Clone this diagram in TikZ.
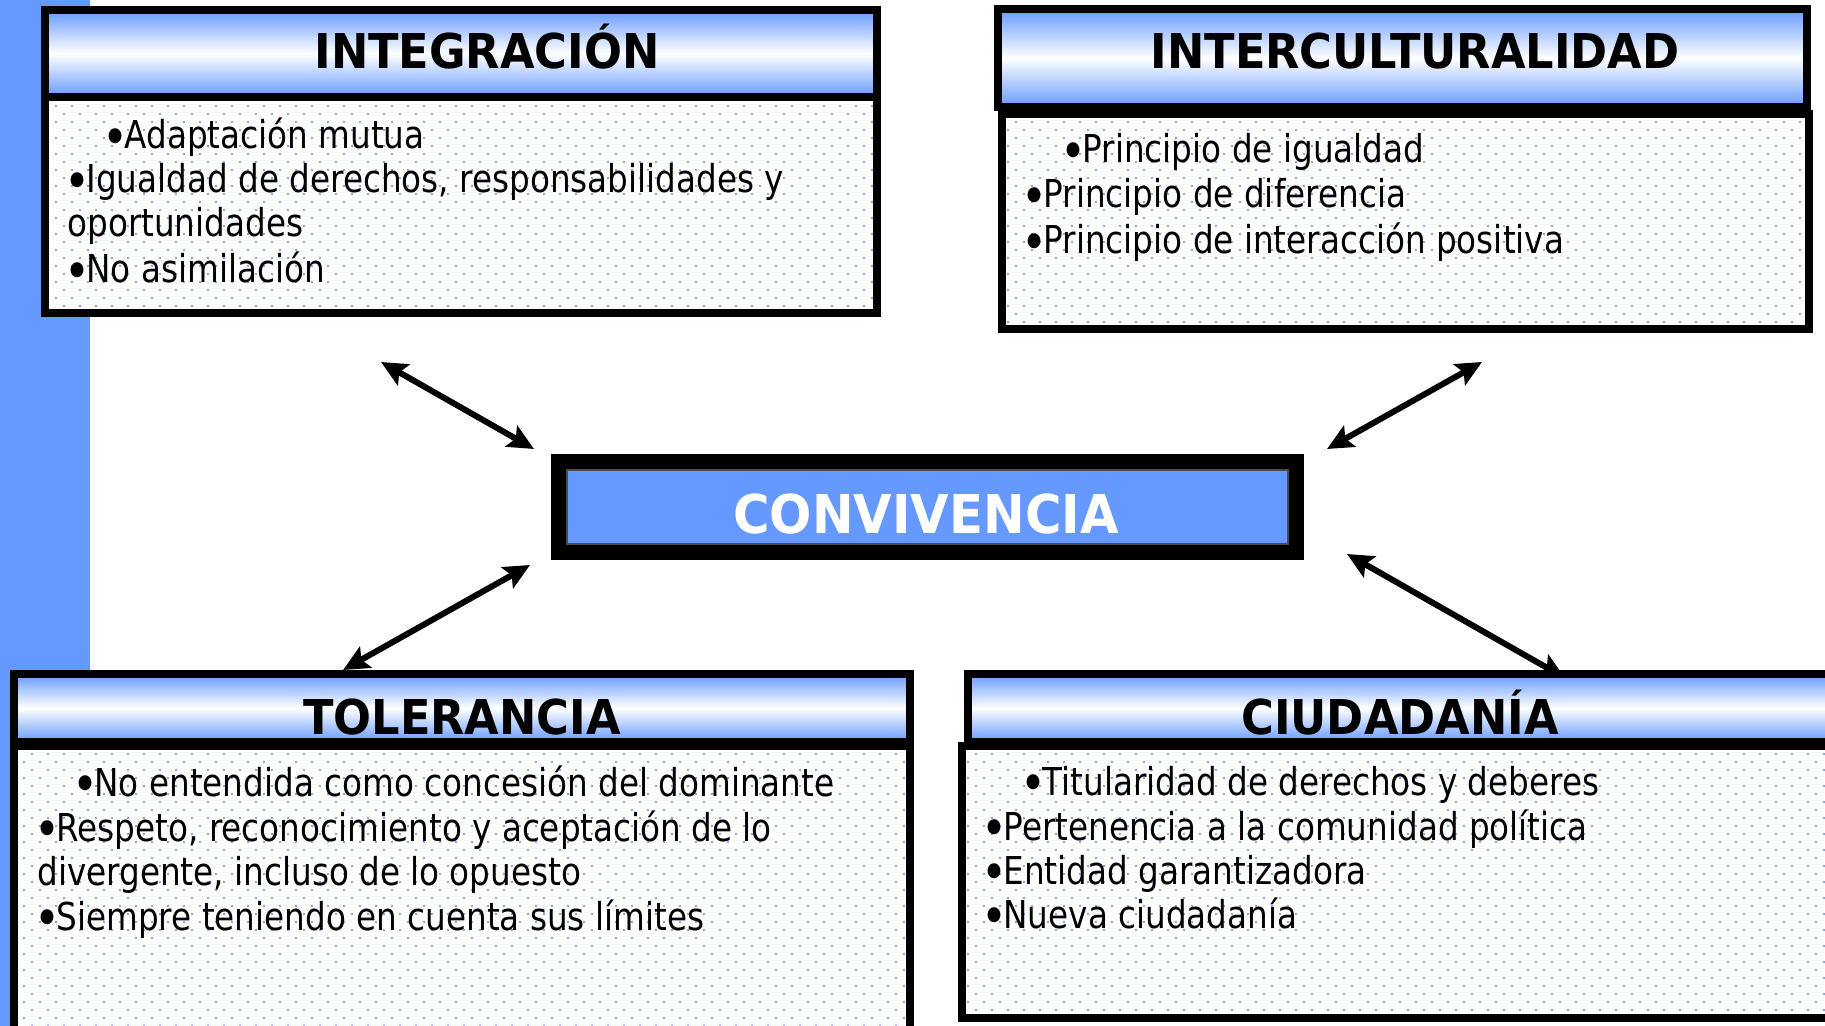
\documentclass[tikz,border=0pt]{standalone}
\usepackage{fontspec}
\setmainfont{DejaVu Sans}[FakeStretch=0.85]
\newfontfamily\tfont{DejaVu Sans}[FakeStretch=0.93]
\usetikzlibrary{arrows.meta,patterns.meta}
\definecolor{hb}{HTML}{6699FF}
\definecolor{dotc}{HTML}{7FA3FF}
\newcommand\bul{\raisebox{-0.16em}{\scalebox{1.35}{•}}\kern-0.1em}
\tikzset{
 hdr/.style={draw=black, line width=4pt, top color=hb, bottom color=hb, middle color=white},
 bodyb/.style={draw=black, line width=4pt, preaction={fill=white}, pattern={Dots[distance=5.657pt,angle=45,radius=0.65pt]}, pattern color=dotc},
 ttl/.style={font=\tfont\bfseries\fontsize{24}{28}\selectfont, anchor=base, inner sep=0pt},
 txt/.style={font=\fontsize{19.2}{22.4}\selectfont, anchor=base west, inner sep=0pt, text height=0.72em, text depth=0.12em},
 dbl/.style={line width=3pt, {Stealth[length=13pt,width=12pt,inset=2.5pt]}-{Stealth[length=13pt,width=12pt,inset=2.5pt]}},
}
\begin{document}
\begin{tikzpicture}[x=0.5pt,y=-0.5pt]
\useasboundingbox (0,0) rectangle (1825,1026);
\clip (0,0) rectangle (1825,1026);
\fill[white] (0,0) rectangle (1825,1026);
\fill[hb] (0,0) rectangle (90,1026);
% INTEGRACION
\draw[bodyb] (45,97) rectangle (877,313);
\draw[hdr] (45,10) rectangle (877,97);
\node[ttl] (intt) at (487,69) {INTEGRACIÓN};
\node[txt] (int1) at (102,149) {\bul Adaptación mutua};
\node[txt] (int2) at (64,193) {\bul Igualdad de derechos, responsabilidades y};
\node[txt] (int3) at (67,237) {oportunidades};
\node[txt] (int4) at (64,283) {\bul No asimilación};
% INTERCULTURALIDAD
\draw[bodyb] (1002,114) rectangle (1809,329);
\draw[hdr] (998,9) rectangle (1807,107);
\node[ttl] (ict) at (1415,69) {INTERCULTURALIDAD};
\node[txt] (ic1) at (1060,163) {\bul Principio de igualdad};
\node[txt] (ic2) at (1021,208) {\bul Principio de diferencia};
\node[txt] (ic3) at (1021,254) {\bul Principio de interacción positiva};
% TOLERANCIA
\draw[bodyb] (14,746) rectangle (910,1050);
\draw[hdr] (14,674) rectangle (910,742);
\node[ttl] (tolt) at (462,734) {TOLERANCIA};
\node[txt] (tol1) at (72,796) {\bul No entendida como concesión del dominante};
\node[txt] (tol2) at (34,841) {\bul Respeto, reconocimiento y aceptación de lo};
\node[txt] (tol3) at (37,885) {divergente, incluso de lo opuesto};
\node[txt] (tol4) at (34,930) {\bul Siempre teniendo en cuenta sus límites};
% CIUDADANIA
\draw[bodyb] (962,746) rectangle (1850,1018);
\draw[hdr] (968,674) rectangle (1850,742);
\node[ttl] (ciut) at (1400,734) {CIUDADANÍA};
\node[txt] (ciu1) at (1020,795) {\bul Titularidad de derechos y deberes};
\node[txt] (ciu2) at (981,840) {\bul Pertenencia a la comunidad política};
\node[txt] (ciu3) at (981,884) {\bul Entidad garantizadora};
\node[txt] (ciu4) at (981,928) {\bul Nueva ciudadanía};
% CONVIVENCIA
\draw[line width=8pt, fill=hb] (559,462) rectangle (1296,552);
\draw[line width=0.6pt, draw=black!70] (567,470) rectangle (1288,544);
\node[font=\tfont\bfseries\fontsize{26.75}{30}\selectfont, text=white, anchor=base, inner sep=0pt] (conv) at (926,533) {CONVIVENCIA};
% arrows
\coordinate (a1s) at (381,362); \coordinate (a1e) at (534,449);
\coordinate (a2s) at (1482,362); \coordinate (a2e) at (1327,449);
\coordinate (a3s) at (530,565); \coordinate (a3e) at (343,670);
\coordinate (a4s) at (1347,554); \coordinate (a4e) at (1565,678);
\draw[dbl] (a1s) -- (a1e);
\draw[dbl] (a2s) -- (a2e);
\draw[dbl] (a3s) -- (a3e);
\draw[dbl] (a4s) -- (a4e);
\end{tikzpicture}
\end{document}
